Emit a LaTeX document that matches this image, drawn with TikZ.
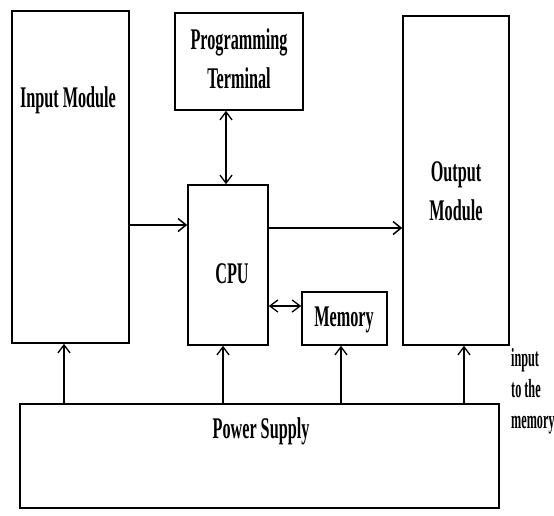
\documentclass[tikz,border=0pt]{standalone}
\usepackage{fontspec}
\setmainfont{Liberation Serif}[FakeStretch=0.54]
\newfontfamily\sidefont{Liberation Serif}[FakeStretch=0.47]
\usetikzlibrary{arrows.meta}
\begin{document}
\begin{tikzpicture}[x=1pt,y=-1pt,
  blk/.style={draw=black,line width=1.6pt,rectangle,inner sep=0pt},
  lbl/.style={font=\fontsize{30}{39}\selectfont\bfseries,align=center,inner sep=0pt},
  side/.style={font=\sidefont\fontsize{26}{31}\selectfont\bfseries,align=left,inner sep=0pt,anchor=north west},
  arr/.style={line width=1.3pt,-{Straight Barb[length=8pt,width=12pt,line width=1.3pt]}},
  harr/.style={line width=2pt,-{Straight Barb[length=8pt,width=13pt,line width=1.5pt]}},
  darr/.style={line width=1.4pt,{Straight Barb[length=8pt,width=12pt,line width=1.3pt]}-{Straight Barb[length=8pt,width=12pt,line width=1.3pt]}}]
\useasboundingbox (0,0) rectangle (554,515);
\fill[white] (0,0) rectangle (554,515);
% boxes
\node[blk,minimum width=117pt,minimum height=332pt] (inp) at (70.5,177) {};
\node[blk,minimum width=128pt,minimum height=97pt] (term) at (239,61.5) {};
\node[blk,minimum width=80pt,minimum height=160pt] (cpu) at (228,265) {};
\node[blk,minimum width=106pt,minimum height=329pt] (out) at (456,180.5) {};
\node[blk,minimum width=85pt,minimum height=53pt] (mem) at (344.5,318.5) {};
\node[blk,minimum width=479pt,minimum height=104pt] (pow) at (259.5,456) {};
% labels
\node[lbl] (tinp) at (68,100) {Input Module};
\node[lbl] (tterm) at (239,59) {Programming\\Terminal};
\node[lbl] (tcpu) at (232,274) {CPU};
\node[lbl] (tout) at (456,191) {Output\\Module};
\node[lbl] (tmem) at (344,320) {Memory};
\node[lbl] (tpow) at (261,431) {Power Supply};
\node[side] (tside) at (511,348) {input\\to the\\memory};
% helper coordinates
\coordinate (r1) at (0,225);
\coordinate (r2) at (0,228);
\coordinate (r3) at (0,306);
\coordinate (c1) at (226,0);
\coordinate (p1) at (64,0);
\coordinate (p2) at (223,0);
\coordinate (p3) at (341,0);
\coordinate (p4) at (464,0);
% connectors
\draw[harr] (inp.east |- r1) -- (cpu.west |- r1);
\draw[harr] (cpu.east |- r2) -- (out.west |- r2);
\draw[darr] (cpu.east |- r3) -- (mem.west |- r3);
\draw[darr] (term.south -| c1) -- (cpu.north -| c1);
\draw[arr] (pow.north -| p1) -- (inp.south -| p1);
\draw[arr] (pow.north -| p2) -- (cpu.south -| p2);
\draw[arr] (pow.north -| p3) -- (mem.south -| p3);
\draw[arr] (pow.north -| p4) -- (out.south -| p4);
\end{tikzpicture}
\end{document}
